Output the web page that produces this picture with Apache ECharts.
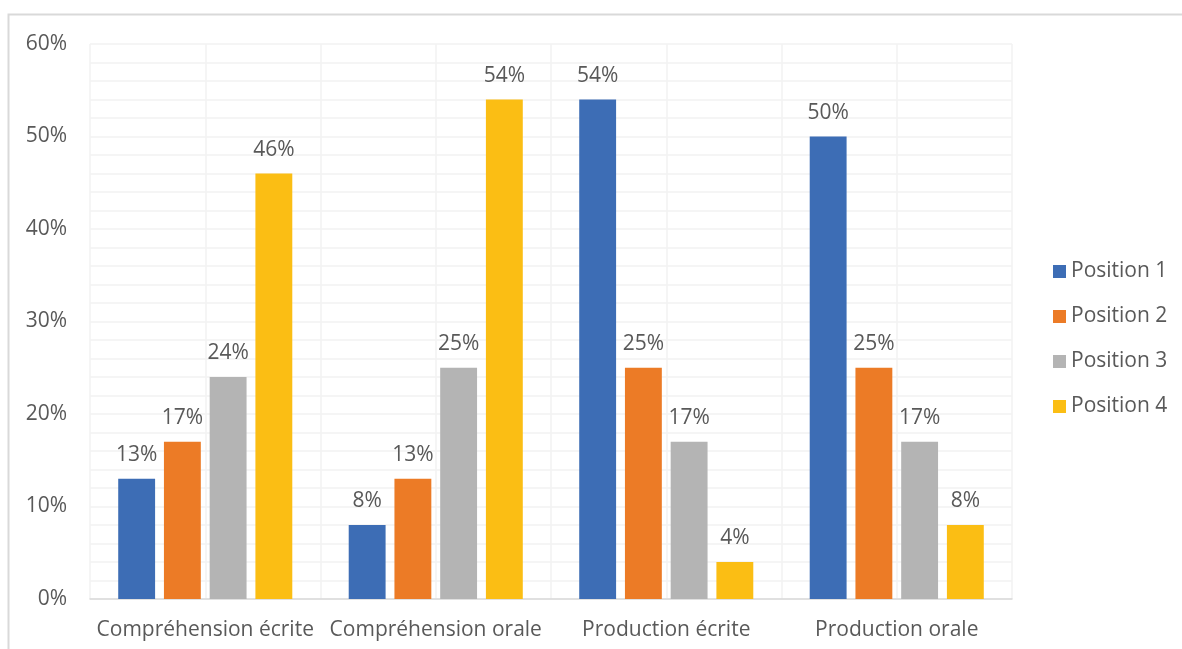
<!DOCTYPE html>
<html>
<head>
<meta charset="utf-8">
<script src="https://cdn.jsdelivr.net/npm/echarts@6/dist/echarts.min.js"></script>
<style>
  html, body { margin: 0; padding: 0; background: #ffffff; }
  #chart { width: 1182px; height: 649px; }
</style>
</head>
<body>
<div id="chart"></div>
<script>
// Skills and the share (%) of answers at each position
const categories = ['Compréhension écrite', 'Compréhension orale', 'Production écrite', 'Production orale'];
const seriesNames = ['Position 1', 'Position 2', 'Position 3', 'Position 4'];
const position1 = [13, 8, 54, 50];
const position2 = [17, 13, 25, 25];
const position3 = [24, 25, 17, 17];
const position4 = [46, 54, 4, 8];
const yTicks = [0, 10, 20, 30, 40, 50, 60];

const values = [position1, position2, position3, position4];
const colors = ['#3D6DB5', '#EC7B26', '#B4B4B4', '#FBBE14'];
const textColor = '#595959';
const fontFamily = '"Open Sans", "Noto Sans", sans-serif';
const fontSize = 21;

const chart = echarts.init(document.getElementById('chart'), null, { renderer: 'canvas' });

chart.setOption({
  backgroundColor: '#ffffff',
  textStyle: { fontFamily: fontFamily, color: textColor },
  animation: false,
  graphic: [{
    type: 'polyline',
    shape: { points: [[8.5, 649], [8.5, 14.5], [1182, 14.5]] },
    style: { stroke: '#d9d9d9', lineWidth: 2, fill: null },
    silent: true
  }],
  grid: { left: 90, right: 170, top: 44, bottom: 50, containLabel: false },
  legend: {
    orient: 'vertical',
    left: 1048,
    top: 256,
    itemWidth: 13,
    itemHeight: 13,
    itemGap: 24,
    icon: 'rect',
    data: seriesNames,
    textStyle: { fontFamily: fontFamily, fontSize: fontSize, color: textColor }
  },
  xAxis: [{
    type: 'category',
    data: categories,
    axisLine: { lineStyle: { color: '#d9d9d9', width: 1.5 } },
    axisTick: { show: false },
    splitLine: { show: false },
    axisLabel: { fontFamily: fontFamily, fontSize: fontSize, color: textColor, margin: 21, interval: 0 }
  }, {
    // hidden helper axis giving vertical gridlines at category edges and centres
    type: 'value',
    min: 0,
    max: 8,
    interval: 1,
    position: 'bottom',
    axisLine: { show: false },
    axisTick: { show: false },
    axisLabel: { show: false },
    splitLine: { show: true, lineStyle: { color: '#f2f2f2', width: 1.5 } }
  }],
  yAxis: {
    type: 'value',
    min: yTicks[0],
    max: yTicks[yTicks.length - 1],
    interval: 10,
    axisLine: { show: false },
    axisTick: { show: false },
    axisLabel: { fontFamily: fontFamily, fontSize: fontSize, color: textColor, margin: 23, formatter: '{value}%' },
    splitLine: { show: true, lineStyle: { color: '#f2f2f2', width: 1.5 } },
    minorTick: { show: false, splitNumber: 5 },
    minorSplitLine: { show: true, lineStyle: { color: '#f2f2f2', width: 1.5 } }
  },
  series: seriesNames.map((name, i) => ({
    name: name,
    type: 'bar',
    xAxisIndex: 0,
    data: values[i],
    barWidth: '16%',
    barGap: '24%',
    itemStyle: { color: colors[i] },
    label: {
      show: true,
      position: 'top',
      distance: 13,
      formatter: '{c}%',
      fontFamily: fontFamily,
      fontSize: fontSize,
      color: textColor
    }
  }))
});
</script>
</body>
</html>
